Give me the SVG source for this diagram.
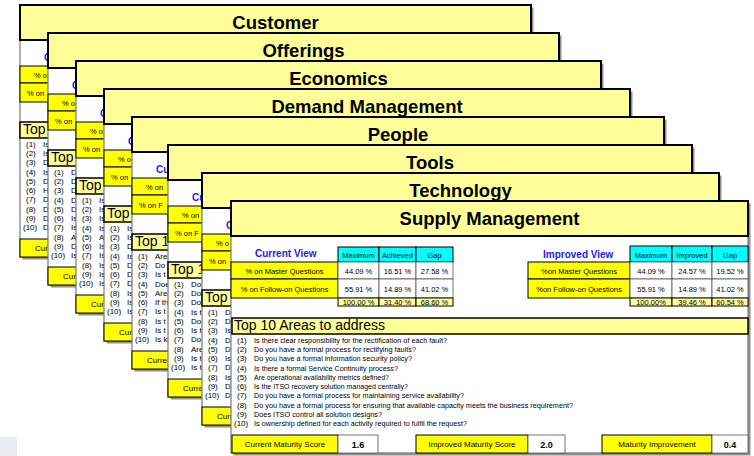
<svg xmlns="http://www.w3.org/2000/svg" width="754" height="456" viewBox="0 0 754 456">
<style>
text{font-family:"Liberation Sans",Arial,sans-serif;fill:#000}
.shd{fill:#909090}
.bdy{fill:#fff;stroke:#7a7a7a;stroke-width:1.2}
.hdr{fill:#FFFF99;stroke:#000;stroke-width:2}
.ttl{font-size:18.5px;font-weight:bold;text-anchor:middle}
.cv{font-size:10px;font-weight:bold;fill:#2222EE}
.ylw{fill:#FFFF00;stroke:#000;stroke-width:1}
.cyn{fill:#00FFFF;stroke:#000;stroke-width:1}
.cel{fill:#fff;stroke:#555;stroke-width:0.8}
.tot{fill:#FFFF99;stroke:#000;stroke-width:1}
.tbx{fill:#FFFF99;stroke:#000;stroke-width:1.5}
.s7{font-size:7.5px}
.c7{font-size:7.5px;text-anchor:middle}
.s8{font-size:8px}
.c8{font-size:8px;text-anchor:middle}
.val{font-size:9px;font-weight:bold;text-anchor:middle}
.tp{font-size:14px}
.it{font-size:8px}
</style>
<rect x="0" y="437" width="17" height="19" fill="#E9EDF1"/>

<g id="card-customer" transform="translate(20,5)">
<rect class="shd" x="2.5" y="2.5" width="511" height="252"/>
<rect class="bdy" x="0" y="35" width="511" height="217"/>
<rect class="hdr" x="0" y="0" width="511" height="35"/>
<text class="ttl" x="255.5" y="24">Customer</text>
<text class="cv" x="24" y="56">C</text>
<rect class="ylw" x="0" y="61" width="107" height="17"/>
<rect class="ylw" x="0" y="78" width="107" height="19"/>
<text class="s7" x="14" y="72.5">% o</text>
<text class="s7" x="7" y="90.5">% on</text>
<rect class="tbx" x="0" y="117" width="511" height="16"/>
<text class="tp" x="3" y="129">Top</text>
<text class="it" y="142"><tspan x="6">(1)</tspan><tspan x="23">Is</tspan></text>
<text class="it" y="151.2"><tspan x="6">(2)</tspan><tspan x="23">Is</tspan></text>
<text class="it" y="160.4"><tspan x="6">(3)</tspan><tspan x="23">D</tspan></text>
<text class="it" y="169.7"><tspan x="6">(4)</tspan><tspan x="23">Is</tspan></text>
<text class="it" y="178.9"><tspan x="6">(5)</tspan><tspan x="23">D</tspan></text>
<text class="it" y="188.1"><tspan x="6">(6)</tspan><tspan x="23">H</tspan></text>
<text class="it" y="197.3"><tspan x="6">(7)</tspan><tspan x="23">D</tspan></text>
<text class="it" y="206.5"><tspan x="6">(8)</tspan><tspan x="23">D</tspan></text>
<text class="it" y="215.8"><tspan x="6">(9)</tspan><tspan x="23">D</tspan></text>
<text class="it" y="225"><tspan x="3">(10)</tspan><tspan x="23">D</tspan></text>
<rect class="ylw" x="0" y="234" width="107" height="18"/>
<text class="s8" x="15" y="246">Curr</text>
</g>

<g id="card-offerings" transform="translate(48,33)">
<rect class="shd" x="2.5" y="2.5" width="511" height="252"/>
<rect class="bdy" x="0" y="35" width="511" height="217"/>
<rect class="hdr" x="0" y="0" width="511" height="35"/>
<text class="ttl" x="255.5" y="24">Offerings</text>
<text class="cv" x="24" y="56">C</text>
<rect class="ylw" x="0" y="61" width="107" height="17"/>
<rect class="ylw" x="0" y="78" width="107" height="19"/>
<text class="s7" x="14" y="72.5">% o</text>
<text class="s7" x="7" y="90.5">% on</text>
<rect class="tbx" x="0" y="117" width="511" height="16"/>
<text class="tp" x="3" y="129">Top</text>
<text class="it" y="142"><tspan x="6">(1)</tspan><tspan x="23">D</tspan></text>
<text class="it" y="151.2"><tspan x="6">(2)</tspan><tspan x="23">D</tspan></text>
<text class="it" y="160.4"><tspan x="6">(3)</tspan><tspan x="23">D</tspan></text>
<text class="it" y="169.7"><tspan x="6">(4)</tspan><tspan x="23">D</tspan></text>
<text class="it" y="178.9"><tspan x="6">(5)</tspan><tspan x="23">D</tspan></text>
<text class="it" y="188.1"><tspan x="6">(6)</tspan><tspan x="23">Is</tspan></text>
<text class="it" y="197.3"><tspan x="6">(7)</tspan><tspan x="23">Is</tspan></text>
<text class="it" y="206.5"><tspan x="6">(8)</tspan><tspan x="23">A</tspan></text>
<text class="it" y="215.8"><tspan x="6">(9)</tspan><tspan x="23">D</tspan></text>
<text class="it" y="225"><tspan x="3">(10)</tspan><tspan x="23">Is</tspan></text>
<rect class="ylw" x="0" y="234" width="107" height="18"/>
<text class="s8" x="15" y="246">Curr</text>
</g>

<g id="card-economics" transform="translate(76,61)">
<rect class="shd" x="2.5" y="2.5" width="525" height="252"/>
<rect class="bdy" x="0" y="35" width="525" height="217"/>
<rect class="hdr" x="0" y="0" width="525" height="35"/>
<text class="ttl" x="262.5" y="24">Economics</text>
<text class="cv" x="24" y="56">C</text>
<rect class="ylw" x="0" y="61" width="107" height="17"/>
<rect class="ylw" x="0" y="78" width="107" height="19"/>
<text class="s7" x="14" y="72.5">% o</text>
<text class="s7" x="7" y="90.5">% on</text>
<rect class="tbx" x="0" y="117" width="525" height="16"/>
<text class="tp" x="3" y="129">Top</text>
<text class="it" y="142"><tspan x="6">(1)</tspan><tspan x="23">Is</tspan></text>
<text class="it" y="151.2"><tspan x="6">(2)</tspan><tspan x="23">Is</tspan></text>
<text class="it" y="160.4"><tspan x="6">(3)</tspan><tspan x="23">Is</tspan></text>
<text class="it" y="169.7"><tspan x="6">(4)</tspan><tspan x="23">Is</tspan></text>
<text class="it" y="178.9"><tspan x="6">(5)</tspan><tspan x="23">A</tspan></text>
<text class="it" y="188.1"><tspan x="6">(6)</tspan><tspan x="23">Is</tspan></text>
<text class="it" y="197.3"><tspan x="6">(7)</tspan><tspan x="23">Is</tspan></text>
<text class="it" y="206.5"><tspan x="6">(8)</tspan><tspan x="23">Is</tspan></text>
<text class="it" y="215.8"><tspan x="6">(9)</tspan><tspan x="23">Is</tspan></text>
<text class="it" y="225"><tspan x="3">(10)</tspan><tspan x="23">Is</tspan></text>
<rect class="ylw" x="0" y="234" width="107" height="18"/>
<text class="s8" x="15" y="246">Curr</text>
</g>

<g id="card-demand" transform="translate(104,89)">
<rect class="shd" x="2.5" y="2.5" width="526" height="252"/>
<rect class="bdy" x="0" y="35" width="526" height="217"/>
<rect class="hdr" x="0" y="0" width="526" height="35"/>
<text class="ttl" x="263" y="24">Demand Management</text>
<text class="cv" x="24" y="56">C</text>
<rect class="ylw" x="0" y="61" width="107" height="17"/>
<rect class="ylw" x="0" y="78" width="107" height="19"/>
<text class="s7" x="14" y="72.5">% o</text>
<text class="s7" x="7" y="90.5">% on</text>
<rect class="tbx" x="0" y="117" width="526" height="16"/>
<text class="tp" x="3" y="129">Top</text>
<text class="it" y="142"><tspan x="6">(1)</tspan><tspan x="23">Is</tspan></text>
<text class="it" y="151.2"><tspan x="6">(2)</tspan><tspan x="23">Is</tspan></text>
<text class="it" y="160.4"><tspan x="6">(3)</tspan><tspan x="23">D</tspan></text>
<text class="it" y="169.7"><tspan x="6">(4)</tspan><tspan x="23">Is</tspan></text>
<text class="it" y="178.9"><tspan x="6">(5)</tspan><tspan x="23">D</tspan></text>
<text class="it" y="188.1"><tspan x="6">(6)</tspan><tspan x="23">D</tspan></text>
<text class="it" y="197.3"><tspan x="6">(7)</tspan><tspan x="23">D</tspan></text>
<text class="it" y="206.5"><tspan x="6">(8)</tspan><tspan x="23">Is</tspan></text>
<text class="it" y="215.8"><tspan x="6">(9)</tspan><tspan x="23">Is</tspan></text>
<text class="it" y="225"><tspan x="3">(10)</tspan><tspan x="23">Is</tspan></text>
<rect class="ylw" x="0" y="234" width="107" height="18"/>
<text class="s8" x="15" y="246">Curr</text>
</g>

<g id="card-people" transform="translate(132,117)">
<rect class="shd" x="2.5" y="2.5" width="532" height="252"/>
<rect class="bdy" x="0" y="35" width="532" height="217"/>
<rect class="hdr" x="0" y="0" width="532" height="35"/>
<text class="ttl" x="266" y="24">People</text>
<text class="cv" x="24" y="56">Cu</text>
<rect class="ylw" x="0" y="61" width="107" height="17"/>
<rect class="ylw" x="0" y="78" width="107" height="19"/>
<text class="s7" x="14" y="72.5">% on</text>
<text class="s7" x="7" y="90.5">% on F</text>
<rect class="tbx" x="0" y="117" width="532" height="16"/>
<text class="tp" x="3" y="129">Top 1</text>
<text class="it" y="142"><tspan x="6">(1)</tspan><tspan x="23">Are</tspan></text>
<text class="it" y="151.2"><tspan x="6">(2)</tspan><tspan x="23">Do</tspan></text>
<text class="it" y="160.4"><tspan x="6">(3)</tspan><tspan x="23">Is t</tspan></text>
<text class="it" y="169.7"><tspan x="6">(4)</tspan><tspan x="23">Doe</tspan></text>
<text class="it" y="178.9"><tspan x="6">(5)</tspan><tspan x="23">Are</tspan></text>
<text class="it" y="188.1"><tspan x="6">(6)</tspan><tspan x="23">If th</tspan></text>
<text class="it" y="197.3"><tspan x="6">(7)</tspan><tspan x="23">Is t</tspan></text>
<text class="it" y="206.5"><tspan x="6">(8)</tspan><tspan x="23">Is t</tspan></text>
<text class="it" y="215.8"><tspan x="6">(9)</tspan><tspan x="23">Is t</tspan></text>
<text class="it" y="225"><tspan x="3">(10)</tspan><tspan x="23">Is k</tspan></text>
<rect class="ylw" x="0" y="234" width="107" height="18"/>
<text class="s8" x="15" y="246">Curre</text>
</g>

<g id="card-tools" transform="translate(168,145)">
<rect class="shd" x="2.5" y="2.5" width="524" height="252"/>
<rect class="bdy" x="0" y="35" width="524" height="217"/>
<rect class="hdr" x="0" y="0" width="524" height="35"/>
<text class="ttl" x="262" y="24">Tools</text>
<text class="cv" x="24" y="56">Cu</text>
<rect class="ylw" x="0" y="61" width="107" height="17"/>
<rect class="ylw" x="0" y="78" width="107" height="19"/>
<text class="s7" x="14" y="72.5">% on</text>
<text class="s7" x="7" y="90.5">% on F</text>
<rect class="tbx" x="0" y="117" width="524" height="16"/>
<text class="tp" x="3" y="129">Top 1</text>
<text class="it" y="142"><tspan x="6">(1)</tspan><tspan x="23">Do</tspan></text>
<text class="it" y="151.2"><tspan x="6">(2)</tspan><tspan x="23">Do</tspan></text>
<text class="it" y="160.4"><tspan x="6">(3)</tspan><tspan x="23">Do</tspan></text>
<text class="it" y="169.7"><tspan x="6">(4)</tspan><tspan x="23">Is t</tspan></text>
<text class="it" y="178.9"><tspan x="6">(5)</tspan><tspan x="23">Do</tspan></text>
<text class="it" y="188.1"><tspan x="6">(6)</tspan><tspan x="23">Is t</tspan></text>
<text class="it" y="197.3"><tspan x="6">(7)</tspan><tspan x="23">Do</tspan></text>
<text class="it" y="206.5"><tspan x="6">(8)</tspan><tspan x="23">Are</tspan></text>
<text class="it" y="215.8"><tspan x="6">(9)</tspan><tspan x="23">Is t</tspan></text>
<text class="it" y="225"><tspan x="3">(10)</tspan><tspan x="23">Is t</tspan></text>
<rect class="ylw" x="0" y="234" width="107" height="18"/>
<text class="s8" x="15" y="246">Curre</text>
</g>

<g id="card-technology" transform="translate(202,173)">
<rect class="shd" x="2.5" y="2.5" width="517" height="252"/>
<rect class="bdy" x="0" y="35" width="517" height="217"/>
<rect class="hdr" x="0" y="0" width="517" height="35"/>
<text class="ttl" x="258.5" y="24">Technology</text>
<text class="cv" x="24" y="56">C</text>
<rect class="ylw" x="0" y="61" width="107" height="17"/>
<rect class="ylw" x="0" y="78" width="107" height="19"/>
<text class="s7" x="14" y="72.5">% o</text>
<text class="s7" x="7" y="90.5">% on</text>
<rect class="tbx" x="0" y="117" width="517" height="16"/>
<text class="tp" x="3" y="129">Top</text>
<text class="it" y="142"><tspan x="6">(1)</tspan><tspan x="23">D</tspan></text>
<text class="it" y="151.2"><tspan x="6">(2)</tspan><tspan x="23">D</tspan></text>
<text class="it" y="160.4"><tspan x="6">(3)</tspan><tspan x="23">Is</tspan></text>
<text class="it" y="169.7"><tspan x="6">(4)</tspan><tspan x="23">D</tspan></text>
<text class="it" y="178.9"><tspan x="6">(5)</tspan><tspan x="23">D</tspan></text>
<text class="it" y="188.1"><tspan x="6">(6)</tspan><tspan x="23">Is</tspan></text>
<text class="it" y="197.3"><tspan x="6">(7)</tspan><tspan x="23">D</tspan></text>
<text class="it" y="206.5"><tspan x="6">(8)</tspan><tspan x="23">Is</tspan></text>
<text class="it" y="215.8"><tspan x="6">(9)</tspan><tspan x="23">D</tspan></text>
<text class="it" y="225"><tspan x="3">(10)</tspan><tspan x="23">D</tspan></text>
<rect class="ylw" x="0" y="234" width="107" height="18"/>
<text class="s8" x="15" y="246">Curr</text>
</g>

<g id="card-supply" transform="translate(231,201)">
<rect class="shd" x="2.5" y="2.5" width="517" height="252"/>
<rect class="bdy" x="0" y="35" width="517" height="217"/>
<rect class="hdr" x="0" y="0" width="517" height="35"/>
<text class="ttl" x="258.5" y="24">Supply Management</text>

<text class="cv" x="24" y="56">Current View</text>
<rect class="cyn" x="107" y="46" width="41" height="15"/>
<rect class="cyn" x="148" y="46" width="37" height="15"/>
<rect class="cyn" x="185" y="46" width="37" height="15"/>
<text class="c7" x="127.5" y="57">Maximum</text>
<text class="c7" x="166.5" y="57">Achieved</text>
<text class="c7" x="203.5" y="57">Gap</text>
<rect class="ylw" x="0" y="61" width="107" height="17"/>
<rect class="ylw" x="0" y="78" width="107" height="19"/>
<text class="c7" x="53.5" y="72.5">% on Master Questions</text>
<text class="c7" x="53.5" y="90.5">% on Follow-on Questions</text>
<rect class="cel" x="107" y="61" width="41" height="17"/>
<rect class="cel" x="148" y="61" width="37" height="17"/>
<rect class="cel" x="185" y="61" width="37" height="17"/>
<rect class="cel" x="107" y="78" width="41" height="19"/>
<rect class="cel" x="148" y="78" width="37" height="19"/>
<rect class="cel" x="185" y="78" width="37" height="19"/>
<rect class="tot" x="107" y="97" width="41" height="8"/>
<rect class="tot" x="148" y="97" width="37" height="8"/>
<rect class="tot" x="185" y="97" width="37" height="8"/>
<text class="c7" x="127.5" y="72.5">44.09 %</text>
<text class="c7" x="166.5" y="72.5">16.51 %</text>
<text class="c7" x="203.5" y="72.5">27.58 %</text>
<text class="c7" x="127.5" y="90.5">55.91 %</text>
<text class="c7" x="166.5" y="90.5">14.89 %</text>
<text class="c7" x="203.5" y="90.5">41.02 %</text>
<text class="c7" x="127.5" y="104">100.00 %</text>
<text class="c7" x="166.5" y="104">31.40 %</text>
<text class="c7" x="203.5" y="104">68.60 %</text>

<text class="cv" x="312" y="57">Improved View</text>
<rect class="cyn" x="399" y="45" width="42" height="16"/>
<rect class="cyn" x="441" y="45" width="40" height="16"/>
<rect class="cyn" x="481" y="45" width="36" height="16"/>
<text class="c7" x="420" y="56.5">Maximum</text>
<text class="c7" x="461" y="56.5">Improved</text>
<text class="c7" x="499" y="56.5">Gap</text>
<rect class="ylw" x="297" y="61" width="102" height="17"/>
<rect class="ylw" x="297" y="78" width="102" height="19"/>
<text class="c7" x="348" y="72.5">%on Master Questions</text>
<text class="c7" x="348" y="90.5">%on Follow-on Questions</text>
<rect class="cel" x="399" y="61" width="42" height="17"/>
<rect class="cel" x="441" y="61" width="40" height="17"/>
<rect class="cel" x="481" y="61" width="36" height="17"/>
<rect class="cel" x="399" y="78" width="42" height="19"/>
<rect class="cel" x="441" y="78" width="40" height="19"/>
<rect class="cel" x="481" y="78" width="36" height="19"/>
<rect class="tot" x="399" y="97" width="42" height="8"/>
<rect class="tot" x="441" y="97" width="40" height="8"/>
<rect class="tot" x="481" y="97" width="36" height="8"/>
<text class="c7" x="420" y="72.5">44.09 %</text>
<text class="c7" x="461" y="72.5">24.57 %</text>
<text class="c7" x="499" y="72.5">19.52 %</text>
<text class="c7" x="420" y="90.5">55.91 %</text>
<text class="c7" x="461" y="90.5">14.89 %</text>
<text class="c7" x="499" y="90.5">41.02 %</text>
<text class="c7" x="420" y="104">100.00%</text>
<text class="c7" x="461" y="104">39.46 %</text>
<text class="c7" x="499" y="104">60.54 %</text>

<rect class="tbx" x="1" y="117" width="516" height="16"/>
<text class="tp" x="3" y="129">Top 10 Areas to address</text>
<text class="it" y="142"><tspan x="6">(1)</tspan><tspan x="23" textLength="193" lengthAdjust="spacingAndGlyphs">Is there clear responsibility for the rectification of each fault?</tspan></text>
<text class="it" y="151.2"><tspan x="6">(2)</tspan><tspan x="23" textLength="162" lengthAdjust="spacingAndGlyphs">Do you have a formal process for rectifying faults?</tspan></text>
<text class="it" y="160.4"><tspan x="6">(3)</tspan><tspan x="23" textLength="158" lengthAdjust="spacingAndGlyphs">Do you have a formal information security policy?</tspan></text>
<text class="it" y="169.7"><tspan x="6">(4)</tspan><tspan x="23" textLength="144" lengthAdjust="spacingAndGlyphs">Is there a formal Service Continuity process?</tspan></text>
<text class="it" y="178.9"><tspan x="6">(5)</tspan><tspan x="23" textLength="135" lengthAdjust="spacingAndGlyphs">Are operational availability metrics defined?</tspan></text>
<text class="it" y="188.1"><tspan x="6">(6)</tspan><tspan x="23" textLength="154" lengthAdjust="spacingAndGlyphs">Is the ITSO recovery solution managed centrally?</tspan></text>
<text class="it" y="197.3"><tspan x="6">(7)</tspan><tspan x="23" textLength="210" lengthAdjust="spacingAndGlyphs">Do you have a formal process for maintaining service availability?</tspan></text>
<text class="it" y="206.5"><tspan x="6">(8)</tspan><tspan x="23" textLength="319" lengthAdjust="spacingAndGlyphs">Do you have a formal process for ensuring that available capacity meets the business requirement?</tspan></text>
<text class="it" y="215.8"><tspan x="6">(9)</tspan><tspan x="23" textLength="128" lengthAdjust="spacingAndGlyphs">Does ITSO control all solution designs?</tspan></text>
<text class="it" y="225"><tspan x="3">(10)</tspan><tspan x="23" textLength="213" lengthAdjust="spacingAndGlyphs">Is ownership defined for each activity required to fulfil the request?</tspan></text>

<rect class="ylw" x="1" y="234" width="106" height="18"/>
<rect class="cel" x="107" y="234" width="40" height="18"/>
<text class="c8" x="54" y="246">Current Maturity Score</text>
<text class="val" x="127" y="246.5">1.6</text>
<rect class="ylw" x="185" y="234" width="112" height="18"/>
<rect class="cel" x="297" y="234" width="37" height="18"/>
<text class="c8" x="241" y="246">Improved Maturity Score</text>
<text class="val" x="315.5" y="246.5">2.0</text>
<rect class="ylw" x="371" y="234" width="110" height="18"/>
<rect class="cel" x="481" y="234" width="36" height="18"/>
<text class="c8" x="426" y="246">Maturity Improvement</text>
<text class="val" x="499" y="246.5">0.4</text>
</g>
</svg>
